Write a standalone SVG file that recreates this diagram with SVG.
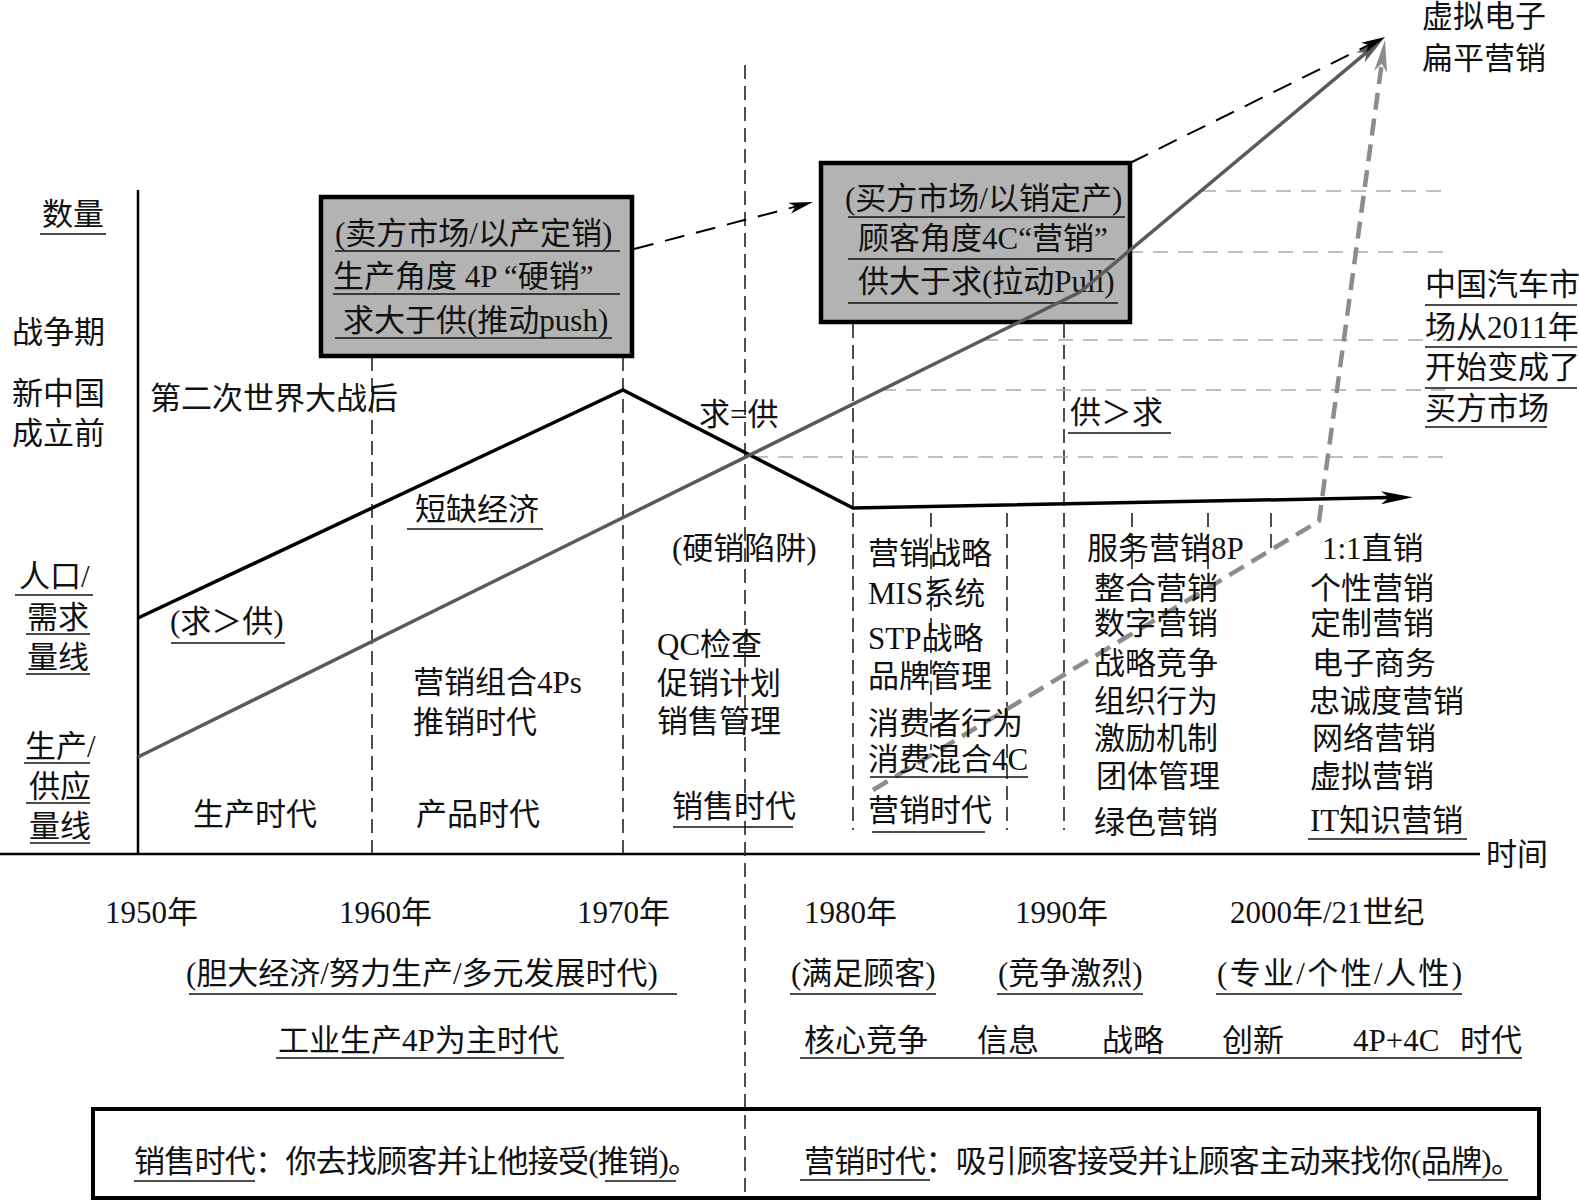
<svg xmlns="http://www.w3.org/2000/svg" width="1579" height="1203" viewBox="0 0 1579 1203">
<style>
.t{font-family:"Liberation Serif","Noto Sans CJK SC",serif;font-size:31px;fill:#111}
.ul{stroke:#111;stroke-width:1.6;fill:none}
.vd{stroke:#222;stroke-width:1.6;stroke-dasharray:14 7;fill:none}
.hd{stroke:#aaa;stroke-width:1.6;stroke-dasharray:15 10;fill:none}
.box{fill:#b3b3b3;stroke:#000;stroke-width:4.5}
.axis{stroke:#000;stroke-width:2.5;fill:none}
</style>
<defs>
<marker id="ahB" markerUnits="userSpaceOnUse" markerWidth="34" markerHeight="16" refX="8" refY="8" orient="auto"><path d="M0,1.5 L32,8 L0,14.5 L8,8 z" fill="#000"/></marker>
<marker id="ahG" markerUnits="userSpaceOnUse" markerWidth="34" markerHeight="16" refX="8" refY="8" orient="auto"><path d="M0,1.5 L32,8 L0,14.5 L8,8 z" fill="#5a5a5a"/></marker>
<marker id="ahL" markerUnits="userSpaceOnUse" markerWidth="34" markerHeight="16" refX="8" refY="8" orient="auto"><path d="M0,1.5 L32,8 L0,14.5 L8,8 z" fill="#8c8c8c"/></marker>
<marker id="ahT" markerUnits="userSpaceOnUse" markerWidth="26" markerHeight="12" refX="6" refY="6" orient="auto"><path d="M0,0.5 L24,6 L0,11.5 L6,6 z" fill="#000"/></marker>
</defs>
<rect width="1579" height="1203" fill="#fff"/>

<g id="axes">
<line class="axis" x1="138" y1="190" x2="138" y2="854"/>
<line class="axis" x1="0" y1="854" x2="1480" y2="854"/>
<text class="t" x="1486" y="865">时间</text>
</g>

<g id="grid">
<line class="vd" x1="372" y1="357" x2="372" y2="854"/>
<line class="vd" x1="623" y1="357" x2="623" y2="854"/>
<line class="vd" x1="745" y1="65" x2="745" y2="1200"/>
<line class="vd" x1="853" y1="324" x2="853" y2="830"/>
<line class="vd" x1="1064" y1="324" x2="1064" y2="830"/>
<line class="vd" x1="931" y1="513" x2="931" y2="750"/>
<line class="vd" x1="1007" y1="513" x2="1007" y2="830"/>
<line class="vd" x1="1132" y1="513" x2="1132" y2="575"/>
<line class="vd" x1="1208" y1="513" x2="1208" y2="575"/>
<line class="vd" x1="1271" y1="513" x2="1271" y2="548"/>
<line class="hd" x1="1201" y1="191" x2="1445" y2="191"/>
<line class="hd" x1="1128" y1="252" x2="1445" y2="252"/>
<line class="hd" x1="983" y1="340" x2="1445" y2="340"/>
<line class="hd" x1="881" y1="390" x2="1445" y2="390"/>
<line class="hd" x1="753" y1="457" x2="1445" y2="457"/>
</g>

<g id="node-seller-market">
<rect class="box" x="321" y="197" width="311" height="159"/>
<text class="t" x="335" y="244">(卖方市场/以产定销)</text>
<line class="ul" x1="335" y1="251" x2="620" y2="251"/>
<text class="t" x="333" y="287">生产角度 4P “硬销”</text>
<line class="ul" x1="333" y1="294" x2="620" y2="294"/>
<text class="t" x="343" y="331">求大于供(推动push)</text>
<line class="ul" x1="335" y1="338" x2="612" y2="338"/>
</g>

<g id="node-buyer-market">
<rect class="box" x="821" y="163" width="309" height="159"/>
<text class="t" x="845" y="209">(买方市场/以销定产)</text>
<line class="ul" x1="848" y1="217" x2="1125" y2="217"/>
<text class="t" x="858" y="249">顾客角度4C“营销”</text>
<line class="ul" x1="848" y1="259" x2="1115" y2="259"/>
<text class="t" x="858" y="292">供大于求(拉动Pull)</text>
<line class="ul" x1="848" y1="303" x2="1118" y2="303"/>
</g>

<g id="connectors">
<polyline points="138,618 623,390 853,508 1389,497.6" fill="none" stroke="#000" stroke-width="3.5" stroke-linejoin="miter" marker-end="url(#ahB)"/>
<polyline points="138,757 1080,292 1366.6,52.4" fill="none" stroke="#5a5a5a" stroke-width="3.5" marker-end="url(#ahG)"/>
<polyline points="873,790 1319,521 1381.7,63.8" fill="none" stroke="#8c8c8c" stroke-width="4.5" stroke-dasharray="17 9" marker-end="url(#ahL)"/>
<line x1="634" y1="249" x2="795.6" y2="206.6" stroke="#000" stroke-width="2" stroke-dasharray="20 12" marker-end="url(#ahT)"/>
<line x1="1130" y1="163" x2="1368.9" y2="45" stroke="#000" stroke-width="2" stroke-dasharray="20 12" marker-end="url(#ahT)"/>
</g>

<g id="y-labels">
<text class="t" x="42" y="225">数量</text>
<line class="ul" x1="40" y1="234" x2="106" y2="234"/>
<text class="t" x="12" y="343">战争期</text>
<text class="t" x="12" y="404">新中国</text>
<text class="t" x="12" y="444">成立前</text>
<text class="t" x="19" y="587">人口/</text>
<line class="ul" x1="15" y1="595" x2="93" y2="595"/>
<text class="t" x="27" y="628">需求</text>
<line class="ul" x1="26" y1="634" x2="90" y2="634"/>
<text class="t" x="27" y="668">量线</text>
<line class="ul" x1="26" y1="674" x2="90" y2="674"/>
<text class="t" x="25" y="757">生产/</text>
<line class="ul" x1="24" y1="763" x2="90" y2="763"/>
<text class="t" x="29" y="797">供应</text>
<line class="ul" x1="26" y1="803" x2="90" y2="803"/>
<text class="t" x="29" y="837">量线</text>
<line class="ul" x1="30" y1="843" x2="90" y2="843"/>
</g>

<g id="chart-labels">
<text class="t" x="150" y="409">第二次世界大战后</text>
<text class="t" x="170" y="632">(求＞供)</text>
<line class="ul" x1="171" y1="643" x2="285" y2="643"/>
<text class="t" x="415" y="520">短缺经济</text>
<line class="ul" x1="407" y1="529" x2="543" y2="529"/>
<text class="t" x="699" y="425">求=供</text>
<text class="t" x="672" y="559">(硬销陷阱)</text>
<text class="t" x="1070" y="423">供＞求</text>
<line class="ul" x1="1068" y1="433" x2="1171" y2="433"/>
</g>

<g id="era-production">
<text class="t" x="193" y="825">生产时代</text>
</g>
<g id="era-product">
<text class="t" x="413" y="693">营销组合4Ps</text>
<text class="t" x="413" y="733">推销时代</text>
<text class="t" x="416" y="825">产品时代</text>
</g>
<g id="era-sales">
<text class="t" x="657" y="655">QC检查</text>
<text class="t" x="657" y="694">促销计划</text>
<text class="t" x="657" y="732">销售管理</text>
<text class="t" x="672" y="817">销售时代</text>
<line class="ul" x1="673" y1="827" x2="793" y2="827"/>
</g>
<g id="era-marketing">
<text class="t" x="868" y="564">营销战略</text>
<text class="t" x="868" y="604">MIS系统</text>
<text class="t" x="868" y="649">STP战略</text>
<text class="t" x="868" y="687">品牌管理</text>
<text class="t" x="868" y="734">消费者行为</text>
<text class="t" x="868" y="770">消费混合4C</text>
<line class="ul" x1="870" y1="777" x2="1028" y2="777"/>
<text class="t" x="868" y="821">营销时代</text>
<line class="ul" x1="872" y1="832" x2="985" y2="832"/>
</g>
<g id="era-1990">
<text class="t" x="1087" y="559">服务营销8P</text>
<text class="t" x="1094" y="599">整合营销</text>
<text class="t" x="1094" y="634">数字营销</text>
<text class="t" x="1094" y="674">战略竞争</text>
<text class="t" x="1094" y="712">组织行为</text>
<text class="t" x="1094" y="749">激励机制</text>
<text class="t" x="1096" y="787">团体管理</text>
<text class="t" x="1094" y="833">绿色营销</text>
</g>
<g id="era-2000">
<text class="t" x="1322" y="559">1:1直销</text>
<text class="t" x="1310" y="599">个性营销</text>
<text class="t" x="1310" y="634">定制营销</text>
<text class="t" x="1312" y="674">电子商务</text>
<text class="t" x="1309" y="712">忠诚度营销</text>
<text class="t" x="1312" y="749">网络营销</text>
<text class="t" x="1310" y="787">虚拟营销</text>
<text class="t" x="1310" y="831">IT知识营销</text>
<line class="ul" x1="1308" y1="839" x2="1467" y2="839"/>
</g>

<g id="top-right">
<text class="t" x="1422" y="27">虚拟电子</text>
<text class="t" x="1422" y="69">扁平营销</text>
<text class="t" x="1425" y="295">中国汽车市</text>
<line class="ul" x1="1425" y1="305" x2="1577" y2="305"/>
<text class="t" x="1425" y="338">场从2011年</text>
<line class="ul" x1="1425" y1="347" x2="1577" y2="347"/>
<text class="t" x="1425" y="378">开始变成了</text>
<line class="ul" x1="1425" y1="388" x2="1577" y2="388"/>
<text class="t" x="1425" y="419">买方市场</text>
<line class="ul" x1="1425" y1="427" x2="1547" y2="427"/>
</g>

<g id="years">
<text class="t" x="105" y="923">1950年</text>
<text class="t" x="339" y="923">1960年</text>
<text class="t" x="577" y="923">1970年</text>
<text class="t" x="804" y="923">1980年</text>
<text class="t" x="1015" y="923">1990年</text>
<text class="t" x="1230" y="923">2000年/21世纪</text>
</g>

<g id="periods">
<text class="t" x="186" y="984">(胆大经济/努力生产/多元发展时代)</text>
<line class="ul" x1="189" y1="994" x2="677" y2="994"/>
<text class="t" x="278" y="1051">工业生产4P为主时代</text>
<line class="ul" x1="276" y1="1058" x2="564" y2="1058"/>
<text class="t" x="791" y="984">(满足顾客)</text>
<line class="ul" x1="790" y1="994" x2="936" y2="994"/>
<text class="t" x="998" y="984">(竞争激烈)</text>
<line class="ul" x1="997" y1="994" x2="1143" y2="994"/>
<text class="t" x="1217" y="984" textLength="245">(专业/个性/人性)</text>
<line class="ul" x1="1216" y1="994" x2="1462" y2="994"/>
<text class="t" y="1051"><tspan x="804">核心竞争</tspan><tspan x="977">信息</tspan><tspan x="1102">战略</tspan><tspan x="1222">创新</tspan><tspan x="1353">4P+4C</tspan><tspan x="1460">时代</tspan></text>
<line class="ul" x1="800" y1="1058" x2="1522" y2="1058"/>
</g>

<g id="node-summary">
<rect x="93" y="1109" width="1446" height="89" fill="none" stroke="#000" stroke-width="4"/>
<text class="t" x="134" y="1172" textLength="565">销售时代：你去找顾客并让他接受(推销)。</text>
<line class="ul" x1="134" y1="1181" x2="255" y2="1181"/>
<line class="ul" x1="605" y1="1181" x2="676" y2="1181"/>
<text class="t" x="804" y="1172" textLength="718">营销时代：吸引顾客接受并让顾客主动来找你(品牌)。</text>
<line class="ul" x1="800" y1="1180" x2="930" y2="1180"/>
<line class="ul" x1="1428" y1="1180" x2="1508" y2="1180"/>
</g>
</svg>
